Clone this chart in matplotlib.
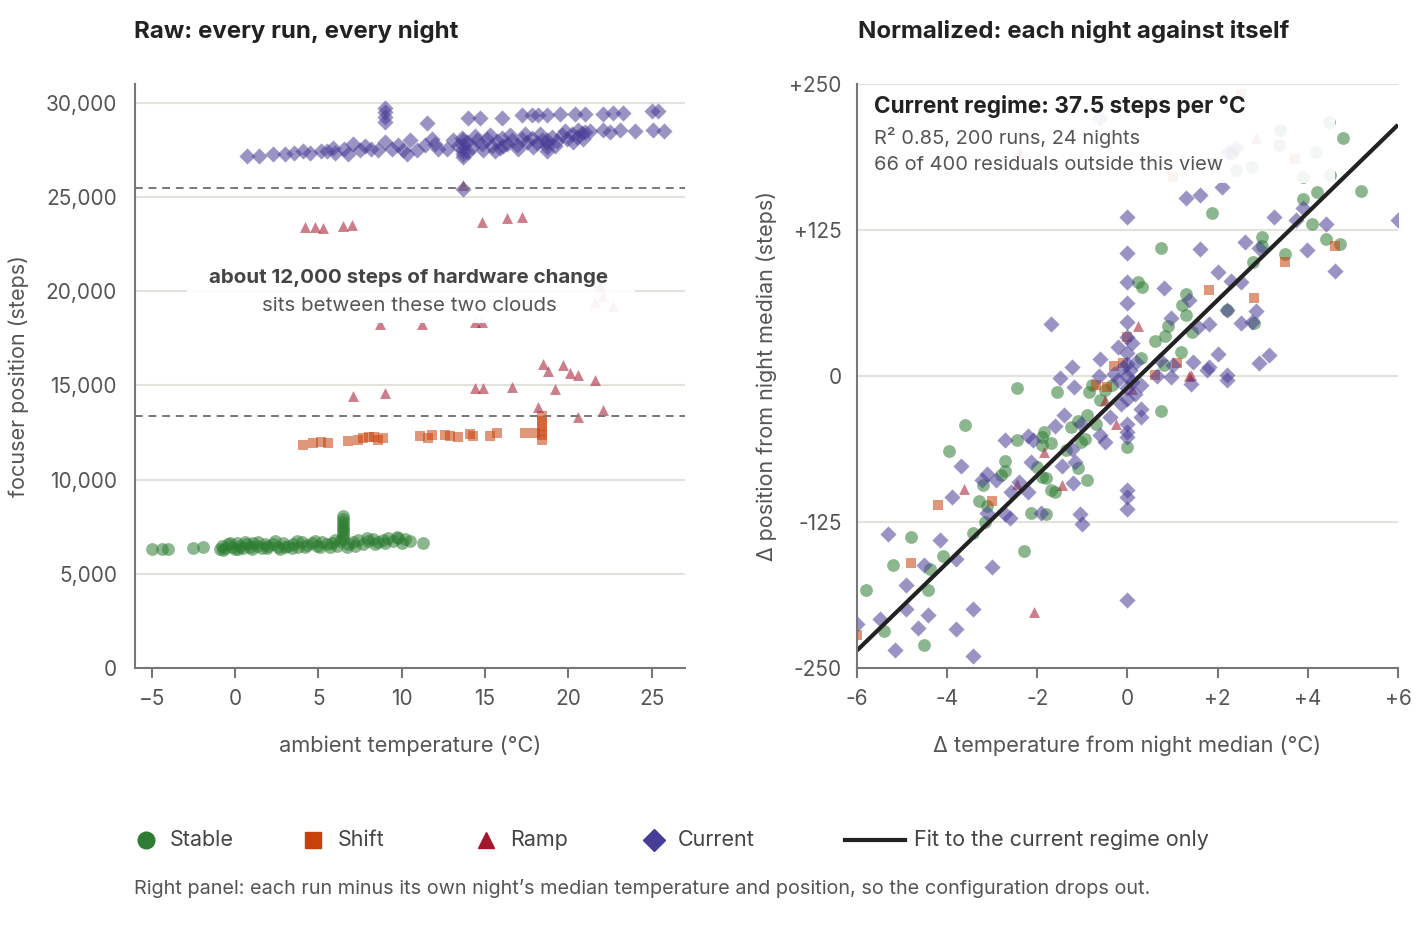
import numpy as np
import matplotlib.pyplot as plt
from matplotlib.lines import Line2D
from matplotlib.patches import Rectangle

plt.rcParams['font.family'] = ['Inter', 'DejaVu Sans']

# Barvy skupin
C_STABLE = '#2e7d32'
C_SHIFT = '#c8410b'
C_RAMP = '#a3172b'
C_CURRENT = '#483d96'
C_TEXT = '#555555'
C_GRID = '#e3e3de'

# Levý panel: teplota okolí (°C), poloha fokuseru (kroky)
raw_stable = np.array([
    [-5.0, 6310], [-4.4, 6320], [-4.0, 6340], [-2.5, 6390], [-1.9, 6410],
    [-0.9, 6300], [-0.8, 6480], [-0.6, 6360], [-0.4, 6560], [-0.2, 6420],
    [0.0, 6300], [0.1, 6620], [0.3, 6470], [0.5, 6380], [0.7, 6560],
    [0.9, 6440], [1.1, 6640], [1.3, 6500], [1.6, 6380], [1.8, 6600],
    [2.0, 6470], [2.3, 6560], [2.6, 6420], [2.9, 6640], [3.2, 6500],
    [3.5, 6600], [3.8, 6450], [4.0, 6680], [4.3, 6540], [4.6, 6620],
    [4.9, 6480], [5.2, 6700], [5.5, 6560], [5.8, 6640], [6.1, 6500],
    [6.3, 6720], [6.8, 6560], [7.1, 6680], [7.4, 6800], [7.7, 6600],
    [8.0, 6740], [8.3, 6860], [8.6, 6700], [8.9, 6820], [9.2, 6900],
    [9.5, 6760], [9.8, 6880], [10.2, 6840], [10.5, 6720], [11.3, 6620],
    [-0.7, 6250], [-0.3, 6650], [0.2, 6300], [0.6, 6700], [1.0, 6320],
    [1.4, 6700], [1.9, 6350], [2.4, 6720], [2.7, 6330], [3.0, 6420],
    [3.4, 6380], [3.7, 6720], [4.2, 6400], [4.8, 6740], [5.1, 6450],
    [5.7, 6420], [6.0, 6780], [6.7, 6420], [7.2, 6480], [7.9, 6880],
    [8.4, 6560], [9.0, 6620], [9.7, 6950], [10.0, 6640],
    [6.5, 6850], [6.5, 7000], [6.5, 7150], [6.5, 7300], [6.5, 7450],
    [6.5, 7600], [6.5, 7750], [6.5, 7900], [6.5, 8050],
])
raw_shift = np.array([
    [4.1, 11860], [4.7, 11960], [5.15, 12000], [5.6, 11960], [6.8, 12030],
    [7.4, 12120], [7.7, 12230], [8.05, 12260], [8.35, 12260], [8.6, 12080],
    [8.9, 12230], [11.1, 12330], [11.6, 12230], [11.8, 12370], [12.6, 12370],
    [12.9, 12300], [13.4, 12260], [14.1, 12440], [14.25, 12300], [15.3, 12300],
    [15.7, 12490], [17.4, 12470], [18.0, 12470],
    [18.4, 12100], [18.4, 12350], [18.4, 12600], [18.4, 12850], [18.4, 13100],
    [18.4, 13400],
])
raw_ramp = np.array([
    [4.2, 23400], [4.8, 23400], [5.3, 23370], [6.5, 23460], [7.0, 23530],
    [14.8, 23670], [16.3, 23900], [17.2, 23940], [13.7, 25650],
    [8.7, 18250], [11.2, 18250], [14.4, 18340], [14.8, 18340],
    [21.9, 20300], [21.6, 19420], [22.1, 19770], [22.7, 19190],
    [18.5, 16150], [18.8, 15760], [19.7, 16110], [20.1, 15670], [20.6, 15530],
    [21.6, 15300], [14.4, 14860], [14.9, 14860], [16.6, 14910], [19.2, 14790],
    [7.1, 14420], [9.0, 14610], [18.2, 13850], [20.6, 13320], [22.1, 13670],
])
raw_current = np.array([
    [0.7, 27160], [1.45, 27200], [2.25, 27270], [3.0, 27300], [3.55, 27340],
    [4.1, 27450], [4.5, 27340], [5.15, 27450], [5.5, 27420], [6.0, 27340],
    [6.55, 27570], [7.1, 27800], [7.5, 27480], [8.15, 27570], [8.6, 27480],
    [9.0, 27920], [9.75, 27750], [10.1, 27480], [10.5, 28000], [10.9, 27480],
    [11.4, 27750], [11.8, 28100], [12.2, 27570], [12.7, 27570], [13.1, 28000],
    [13.4, 27700], [13.9, 27900], [14.2, 27650], [14.5, 28000], [14.8, 27800],
    [15.1, 28100], [15.4, 27700], [15.7, 27950], [16.0, 28150], [16.3, 27800],
    [16.6, 28000], [16.9, 27750], [17.2, 28100], [17.5, 27900], [17.8, 28150],
    [18.1, 27850], [18.4, 28050], [19.0, 28200], [19.3, 27950], [19.6, 28300],
    [19.9, 28100], [20.2, 28350], [20.5, 28200], [20.8, 28400], [13.6, 28150],
    [15.9, 27600],
    [14.0, 27400], [14.4, 28250], [14.9, 27500], [15.3, 28300], [15.6, 27450],
    [16.1, 27700], [16.5, 28300], [17.0, 27550], [17.4, 28350], [17.9, 27650],
    [18.3, 28350], [19.2, 27700], [19.8, 28500], [20.3, 27900], [20.9, 28100],
    [21.3, 28500], [12.0, 27800], [10.3, 27300], [9.4, 27550], [7.8, 27700],
    [6.8, 27300], [5.9, 27600],
    [13.7, 27100], [13.7, 27300], [13.7, 27500], [13.7, 27750], [13.7, 28000],
    [18.7, 27450], [18.7, 27650], [18.7, 27850], [18.7, 28000],
    [14.0, 29170], [14.7, 29220], [16.0, 29220], [17.2, 29340], [17.8, 29340],
    [18.2, 29340], [18.7, 29340], [19.5, 29400], [20.4, 29400], [21.0, 29400],
    [22.1, 29430], [22.7, 29450], [23.3, 29470], [25.0, 29570], [25.4, 29570],
    [11.5, 28940],
    [20.6, 28550], [21.0, 28460], [22.1, 28550], [22.5, 28460], [23.1, 28550],
    [24.0, 28510], [25.1, 28550], [25.75, 28510],
    [9.0, 29000], [9.0, 29250], [9.0, 29500], [9.0, 29750],
    [13.7, 25400],
])
config_breaks = [25500, 13400]

# Pravý panel: odchylka od nočního mediánu (°C, kroky)
norm_stable = np.array([
    [-2.45, -10], [-1.56, -13.7], [-0.79, -8], [-0.86, -13.7], [-0.62, -20.8],
    [-0.34, -8], [-0.5, -12.3], [0.75, -30.3], [0, -60.8], [-0.9, -33.7],
    [-1.1, -38.5], [-1.25, -43.7], [-0.7, -41.4], [-0.94, -53.7], [-1.03, -56.5],
    [-1.85, -47.9], [-1.89, -52.2], [-1.69, -57.4], [-1.89, -59.4], [-2.01, -77.9],
    [-1.89, -86.5], [-1.81, -87], [-1.69, -97.3], [-1.61, -99.3], [-1.1, -78.5],
    [-0.9, -88.8], [-1.37, -63.6], [-2.45, -54.5], [-2.71, -72.8], [-2.71, -81.3],
    [-2.8, -84.5], [-3.2, -93.6], [-3.3, -107], [-3.12, -111.6], [-3.16, -125],
    [-3.42, -134.4], [-3.6, -42.2], [-3.96, -64.2], [-2.13, -117.3], [-1.81, -118.4],
    [-2.3, -149.8], [-4.1, -154.4], [-4.39, -165.5], [-4.42, -183.5], [-4.81, -137.8],
    [-5.21, -162.1], [-5.81, -182.9], [-5.41, -218.6], [-4.51, -230.6],
    [1.88, 139.8], [0.75, 109.9], [2.99, 119.3], [2.99, 111.3], [2.78, 97.9],
    [3.49, 104.2], [3.9, 151.3], [4.2, 157.8], [4.1, 129.9], [4.4, 117],
    [4.72, 113], [5.19, 158.7], [4.77, 203.5], [1.29, 70], [1.21, 60.8],
    [1.29, 52.2], [2.2, 56.5], [2.8, 45.7], [1.43, 37.4], [1.19, 20.8],
    [0.83, 34.2], [0.61, 30.2], [0.89, 42.8], [0.24, 80.8], [0.32, 76.5],
    [0.81, 9.4], [0.29, 15.1],
    [4.46, 217.8], [3.39, 210.6], [3.35, 197.8], [4.19, 192.1], [2.76, 178.7],
    [2.4, 176.4], [3.9, 170.1], [4.5, 172.1], [1.92, 182.1], [2.32, 190.6],
])
norm_shift = np.array([
    [4.6, 111.6], [3.49, 97.3], [2.8, 66.5], [1.8, 73.6], [0, 33.1],
    [-0.3, 8.6], [-0.1, 10.9], [1.09, 11.4], [2.52, 241.4], [3.71, 185.5],
    [1.01, 170.7], [-0.7, -8], [-0.46, -9.4], [0.61, 0.6], [-3.0, -107],
    [-4.21, -110.7], [-4.81, -160.1], [-6.0, -221.5],
])
norm_ramp = np.array([
    [0.24, 42.8], [1.37, 0], [2.84, 203.5], [-2.41, 192], [-0.26, -40.8],
    [-0.5, -20.8], [-1.85, -65.1], [-1.45, -93.6], [-2.45, -92.2], [-3.62, -97],
    [-2.07, -202], [1.41, 0.6], [0.1, -10.8],
])
norm_current = np.array([
    [0, 136.4], [0, 105.6], [0, 80.8], [0, 62.8], [0, 46.5], [0, 33.1],
    [-1.69, 44.2], [0.81, 75.1], [1.29, 152.1], [1.6, 155], [2.1, 162.1],
    [1.6, 108.4], [2.0, 88.8], [2.3, 81.3], [2.52, 80.8], [2.6, 115],
    [2.91, 109.3], [3.25, 136.4], [3.73, 133.6], [3.9, 143.6], [3.99, 107.9],
    [4.41, 130.1], [4.6, 90.2], [6.0, 133.6], [2.2, 56.5], [2.84, 55.6],
    [2.52, 45.7], [2.76, 46.5], [1.8, 44.2], [1.56, 41.7], [1.37, 65.1],
    [0.97, 49.4], [2.0, 18.8], [1.8, 7.4], [2.91, 11.4], [3.15, 18],
    [1.45, 12.3], [1.0, 9.4], [0.73, 13.7], [-0.2, 25.1], [-0.62, 14.3],
    [-1.22, 8], [-1.49, -2], [2.2, -3.3], [-1.19, -9.4], [-1.41, -33.7],
    [-1.61, -43.1], [-2.71, -55.1], [-2.21, -51.7], [-2.1, -54.5], [-2.15, -73.6],
    [-1.45, -77.1], [-1.16, -73.6], [-1.2, -91.6], [-1.22, -62.2], [-1.02, -40.8],
    [-0.62, -50.2], [-0.5, -56.5], [-0.38, -35.1], [-0.14, -23.7], [0, -40.8],
    [0, -47.9], [0, -52.2], [0, -97.3], [0, -103.6], [0, -113.6], [0, -192.1],
    [0.29, -28], [0.29, -35.1], [0.17, -15.1], [0.65, 0], [0.97, -0.9],
    [1.41, -7.1], [1.76, 4.9], [2.2, 0.6], [-0.64, 0], [-3.7, -77.3],
    [-3.9, -103.6], [-3.22, -89.3], [-3.12, -84.2], [-2.91, -89.3], [-3.12, -117.3],
    [-2.71, -117.9], [-2.6, -121.6], [-2.59, -99.3], [-2.41, -90.8], [-2.21, -99.3],
    [-1.91, -117.3], [-1.06, -118.4], [-1.0, -126.4], [-5.31, -135.6], [-4.15, -140.1],
    [-4.51, -162.1], [-3.8, -156.4], [-3.0, -163.5], [-4.91, -178.7], [-4.91, -199.2],
    [-5.5, -207.8], [-6.0, -212.6], [-4.42, -204.9], [-4.65, -215.5], [-3.81, -216.3],
    [-3.42, -199.2], [-5.16, -234.9], [-3.42, -240],
    [0, 0], [0.05, 5], [-0.1, 8], [0.1, -5], [0.2, 12], [-0.2, -3], [0, 20],
    [0.1, 28], [-0.3, 2], [0.3, -8], [0, 10], [0, -10], [0, -20],
    [2.4, 195], [2.24, 192], [-0.62, 220.6],
])

fit_slope = 37.5
fit_intercept = -10
fit_r2 = 0.85
fit_runs = 200
fit_nights = 24
outside_view = 66
total_residuals = 400

groups = [
    ('Stable', 'o', C_STABLE, 85, raw_stable, norm_stable),
    ('Shift', 's', C_SHIFT, 55, raw_shift, norm_shift),
    ('Ramp', '^', C_RAMP, 62, raw_ramp, norm_ramp),
    ('Current', 'D', C_CURRENT, 68, raw_current, norm_current),
]

fig = plt.figure(figsize=(14.2, 9.3), dpi=100)
ax1 = fig.add_axes([0.0951, 0.2817, 0.3873, 0.628])
ax2 = fig.add_axes([0.6035, 0.2817, 0.381, 0.628])

def style_axis(ax, ypad):
    for s in ['top', 'right']:
        ax.spines[s].set_visible(False)
    for s in ['left', 'bottom']:
        ax.spines[s].set_color('#777777')
        ax.spines[s].set_linewidth(1.5)
        ax.spines[s].set_zorder(10)
    ax.grid(axis='y', color=C_GRID, linewidth=1.5, zorder=0)
    ax.set_axisbelow(True)
    ax.tick_params(axis='y', length=0, pad=ypad, labelsize=15, labelcolor=C_TEXT)
    ax.tick_params(axis='x', length=7, width=1.5, color='#777777', pad=8,
                   labelsize=15, labelcolor=C_TEXT)

# Levý panel
for name, m, c, s, raw, norm in groups:
    ax1.scatter(raw[:, 0], raw[:, 1], marker=m, s=s, color=c, alpha=0.55,
                linewidths=0, zorder=2)
for yb in config_breaks:
    ax1.axhline(yb, color='#777777', linestyle=(0, (4, 3)), linewidth=1.4, zorder=3)
ax1.set_xlim(-6, 27)
ax1.set_ylim(0, 31000)
ax1.set_xticks([-5, 0, 5, 10, 15, 20, 25])
ax1.set_yticks([0, 5000, 10000, 15000, 20000, 25000, 30000])
ax1.set_yticklabels([f'{v:,}' for v in [0, 5000, 10000, 15000, 20000, 25000, 30000]])
style_axis(ax1, 13)
ax1.set_xlabel('ambient temperature (°C)', fontsize=15.7, color=C_TEXT, labelpad=19)
ax1.set_ylabel('focuser position (steps)', fontsize=15.5, color=C_TEXT, labelpad=12)
ax1.add_patch(Rectangle((-2.9, 18320), 26.9, 3240, facecolor='white',
                        edgecolor='none', alpha=0.92, zorder=4))
ax1.text(0.498, 0.668, 'about 12,000 steps of hardware change', transform=ax1.transAxes,
         ha='center', va='center', fontsize=14.8, fontweight='bold', color='#444444', zorder=5)
ax1.text(0.498, 0.620, 'sits between these two clouds', transform=ax1.transAxes,
         ha='center', va='center', fontsize=14.8, color=C_TEXT, zorder=5)

# Pravý panel
for name, m, c, s, raw, norm in groups:
    ax2.scatter(norm[:, 0], norm[:, 1], marker=m, s=s, color=c, alpha=0.55,
                linewidths=0, zorder=2)
ax2.set_xlim(-6, 6)
ax2.set_ylim(-250, 250)
fx = np.array(ax2.get_xlim())
ax2.plot(fx, fit_slope * fx + fit_intercept, color='#222222', linewidth=3, zorder=6,
         solid_capstyle='butt')
ax2.set_xticks([-6, -4, -2, 0, 2, 4, 6])
ax2.set_xticklabels(['-6', '-4', '-2', '0', '+2', '+4', '+6'])
ax2.set_yticks([-250, -125, 0, 125, 250])
ax2.set_yticklabels(['-250', '-125', '0', '+125', '+250'])
style_axis(ax2, 11)
ax2.set_xlabel('Δ temperature from night median (°C)', fontsize=15.7, color=C_TEXT, labelpad=19)
ax2.set_ylabel('Δ position from night median (steps)', fontsize=15.5, color=C_TEXT, labelpad=9)
ax2.add_patch(Rectangle((-6, 165), 10.6, 83, facecolor='white',
                        edgecolor='none', alpha=0.9, zorder=4))
ax2.text(0.031, 0.961, f'Current regime: {fit_slope} steps per °C', transform=ax2.transAxes,
         ha='left', va='center', fontsize=16.3, fontweight='bold', color='#222222', zorder=7)
ax2.text(0.031, 0.909, f'R² {fit_r2}, {fit_runs} runs, {fit_nights} nights',
         transform=ax2.transAxes, ha='left', va='center', fontsize=14.4, color=C_TEXT, zorder=7)
ax2.text(0.031, 0.861, f'{outside_view} of {total_residuals} residuals outside this view',
         transform=ax2.transAxes, ha='left', va='center', fontsize=14.4, color=C_TEXT, zorder=7)

# Titulky panelů
fig.text(0.0944, 0.9657, 'Raw: every run, every night', fontsize=17.3, fontweight='bold',
         color='#222222', va='center')
fig.text(0.6045, 0.9657, 'Normalized: each night against itself', fontsize=17.3,
         fontweight='bold', color='#222222', va='center')

# Legenda
leg_y = 0.0968
leg_items = [(146, 170), (313, 338), (486, 510), (654, 678)]
for (mx, tx), (name, m, c, s, raw, norm) in zip(leg_items, groups):
    fig.add_artist(Line2D([mx / 1420], [leg_y], marker=m, color=c,
                          markersize=12 if m != 'D' else 11,
                          linestyle='none', transform=fig.transFigure))
    fig.text(tx / 1420, leg_y, name, fontsize=15.5, color='#444444', va='center')
fig.add_artist(Line2D([845 / 1420, 905 / 1420], [leg_y, leg_y], color='#222222',
                      linewidth=3, transform=fig.transFigure))
fig.text(914 / 1420, leg_y, 'Fit to the current regime only', fontsize=15.5,
         color='#444444', va='center')

fig.text(0.0944, 0.045, 'Right panel: each run minus its own night’s median temperature '
         'and position, so the configuration drops out.', fontsize=14.3, color=C_TEXT,
         va='center')

fig.savefig('out.png', dpi=100)
